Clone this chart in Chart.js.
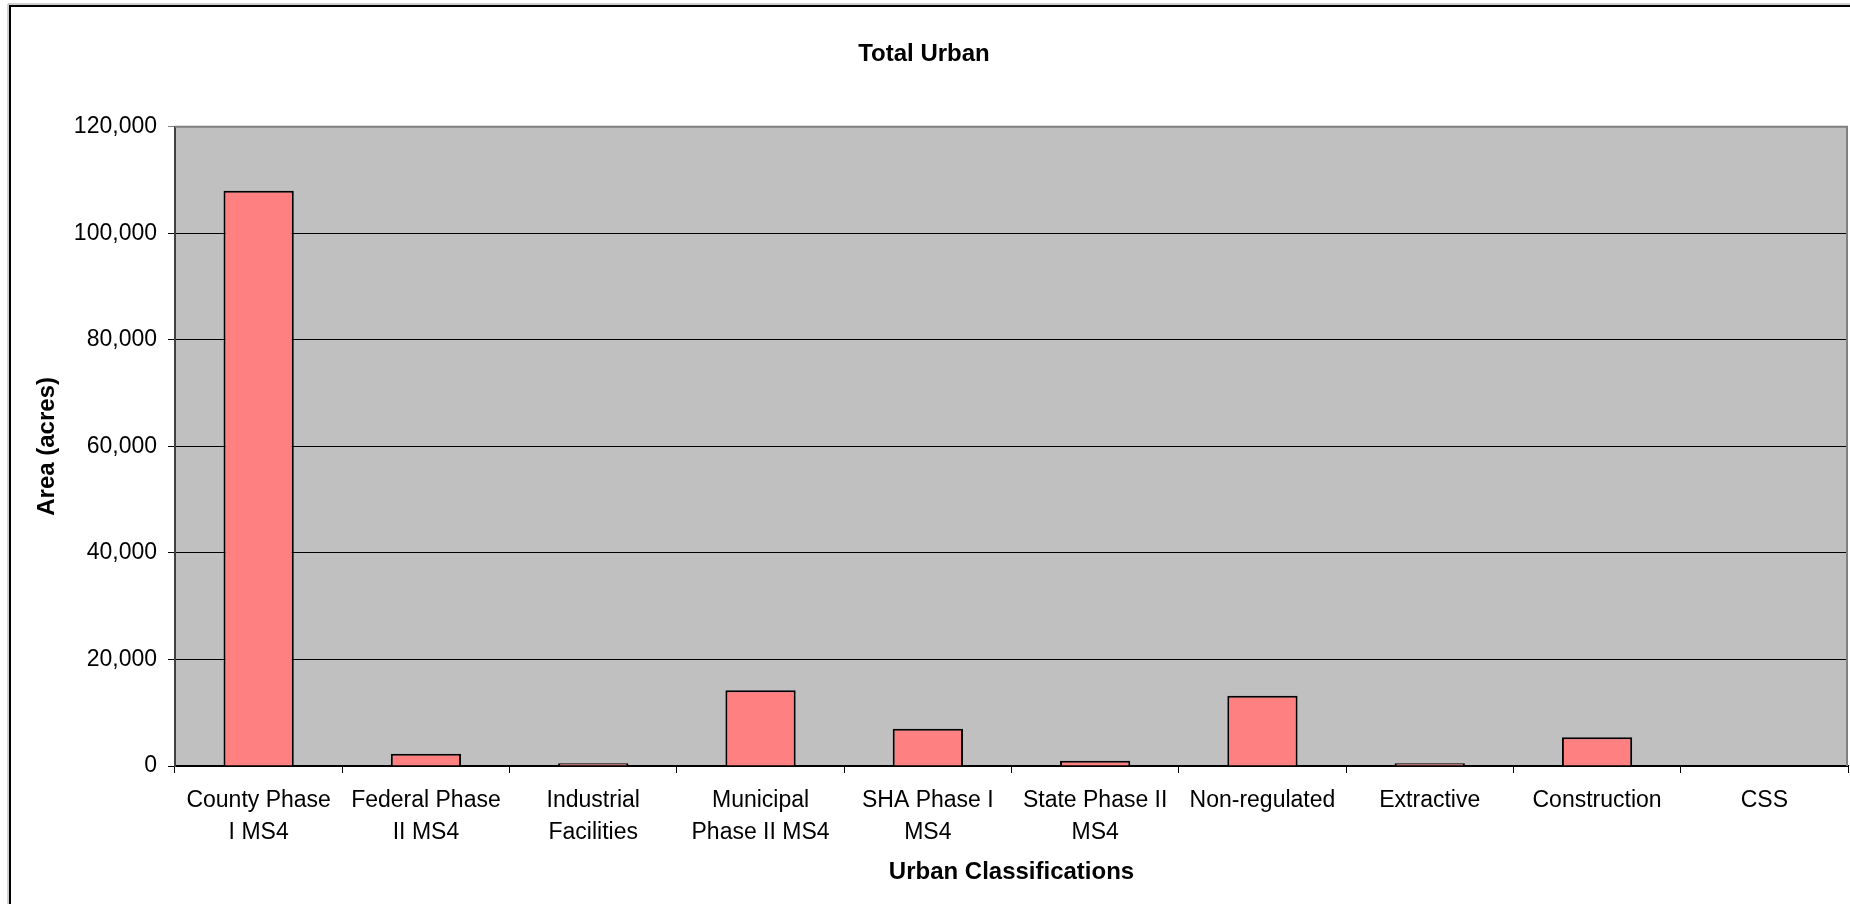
<!DOCTYPE html>
<html>
<head>
<meta charset="utf-8">
<title>Total Urban</title>
<script src="https://cdn.jsdelivr.net/npm/chart.js@4.4.1/dist/chart.umd.min.js"></script>
<style>
  html, body { margin: 0; padding: 0; background: #ffffff; }
  #wrap { width: 1850px; height: 904px; position: relative; }
</style>
</head>
<body>
<div id="wrap"><canvas id="chart" width="1850" height="904"></canvas></div>
<script>
// Urban land classifications and their area in acres
const categories = [
  ["County Phase", "I MS4"],
  ["Federal Phase", "II MS4"],
  ["Industrial", "Facilities"],
  ["Municipal", "Phase II MS4"],
  ["SHA Phase I", "MS4"],
  ["State Phase II", "MS4"],
  "Non-regulated",
  "Extractive",
  "Construction",
  "CSS"
];
const areaAcres = [108000, 2300, 500, 14200, 7000, 1000, 13200, 500, 5400, 0];

const yTickValues = [0, 20000, 40000, 60000, 80000, 100000, 120000];

const chartTitle = "Total Urban";
const xAxisTitle = "Urban Classifications";
const yAxisTitle = "Area (acres)";

const FONT = "'Liberation Sans', Arial, sans-serif";
Chart.defaults.color = '#000000';
Chart.defaults.font.family = FONT;

// Page frame, grey plot background and plot border
const framePlugin = {
  id: 'frame',
  beforeDraw(chart) {
    const { ctx, chartArea: a } = chart;
    ctx.save();
    ctx.fillStyle = '#ffffff';
    ctx.fillRect(0, 0, chart.width, chart.height);
    // outer frame (top and left edges)
    ctx.strokeStyle = '#a0a0a0';
    ctx.lineWidth = 1;
    ctx.beginPath();
    ctx.moveTo(8, chart.height); ctx.lineTo(8, 4); ctx.lineTo(chart.width, 4);
    ctx.stroke();
    ctx.strokeStyle = '#000000';
    ctx.lineWidth = 2;
    ctx.beginPath();
    ctx.moveTo(10, chart.height); ctx.lineTo(10, 6); ctx.lineTo(chart.width, 6);
    ctx.stroke();
    // plot area
    ctx.fillStyle = '#c0c0c0';
    ctx.fillRect(a.left, a.top, a.right - a.left, a.bottom - a.top);
    ctx.restore();
  },
  afterDatasetsDraw(chart) {
    const { ctx, chartArea: a } = chart;
    ctx.save();
    ctx.strokeStyle = '#808080';
    ctx.lineWidth = 2;
    ctx.beginPath();
    ctx.moveTo(a.left, a.top); ctx.lineTo(a.right - 1, a.top); ctx.lineTo(a.right - 1, a.bottom);
    ctx.stroke();
    ctx.restore();
  }
};

new Chart(document.getElementById('chart'), {
  type: 'bar',
  data: {
    labels: categories,
    datasets: [{
      label: yAxisTitle,
      data: areaAcres,
      backgroundColor: '#ff8080',
      borderColor: '#000000',
      borderWidth: 2,
      borderSkipped: 'bottom',
      barPercentage: 0.42,
      categoryPercentage: 1.0
    }]
  },
  options: {
    responsive: false,
    animation: false,
    layout: { padding: { left: 0, right: 2, top: 0, bottom: 0 } },
    plugins: {
      legend: { display: false },
      tooltip: { enabled: false },
      title: {
        display: true,
        text: chartTitle,
        color: '#000000',
        font: { family: FONT, size: 24, weight: 'bold', lineHeight: 1.2 },
        padding: { top: 40, bottom: 58 }
      }
    },
    scales: {
      x: {
        grid: {
          display: true,
          drawOnChartArea: false,
          drawTicks: true,
          tickLength: 7,
          color: '#000000',
          lineWidth: 1,
          offset: true
        },
        border: { display: true, color: '#000000', width: 2 },
        ticks: {
          color: '#000000',
          padding: 12,
          maxRotation: 0,
          autoSkip: false,
          font: { family: FONT, size: 23, lineHeight: 1.38 }
        },
        title: {
          display: true,
          text: xAxisTitle,
          color: '#000000',
          font: { family: FONT, size: 24, weight: 'bold', lineHeight: 1.2 },
          padding: { top: 0, bottom: 17 }
        },
        afterFit(scale) { scale.height = 138; }
      },
      y: {
        min: 0,
        max: 120000,
        afterBuildTicks(scale) { scale.ticks = yTickValues.map(v => ({ value: v })); },
        grid: {
          drawOnChartArea: true,
          drawTicks: true,
          tickLength: 7,
          lineWidth: 1,
          color(ctx) {
            return ctx.tick && ctx.tick.value === 120000 ? '#808080' : '#000000';
          }
        },
        border: { display: true, color: '#404040', width: 2 },
        ticks: {
          color: '#000000',
          padding: 11,
          font: { family: FONT, size: 23 },
          callback(v) { return Number(v).toLocaleString('en-US'); }
        },
        title: {
          display: true,
          text: yAxisTitle,
          color: '#000000',
          font: { family: FONT, size: 24, weight: 'bold', lineHeight: 1.2 },
          padding: { top: 33, bottom: 0 }
        },
        afterFit(scale) { scale.width = 175; }
      }
    }
  },
  plugins: [framePlugin]
});
</script>
</body>
</html>
